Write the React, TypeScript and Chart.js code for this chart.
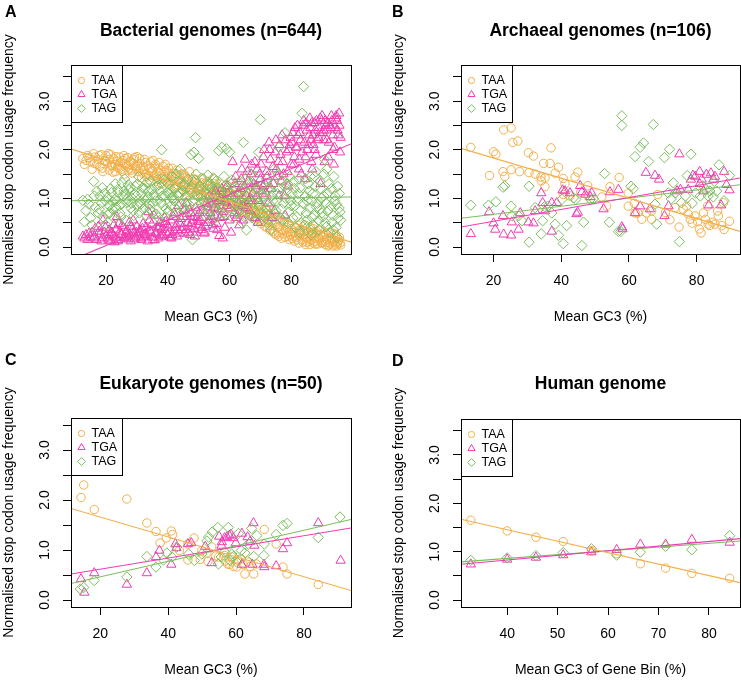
import React, { useEffect, useRef } from 'react';
import { Chart, registerables } from 'chart.js';

Chart.register(...registerables);

const FONT = "'Liberation Sans', Arial, Helvetica, sans-serif";
const ORANGE = '#F2AF4A';
const PINK = '#F03CB0';
const GREEN = '#7BBE5E';

type Pt = [number, number];

// ---- A: bacterial genomes (one entry per genome) ----
const bactGC3 = [
  12.5, 13.0, 13.5, 14.0, 15.0, 15.5, 16.0, 16.5, 17.0, 17.5,
  18.0, 18.5, 19.0, 19.5, 20.0, 20.5, 21.0, 21.2, 21.5, 22.0,
  22.5, 22.8, 23.0, 23.5, 24.0, 24.2, 24.5, 25.0, 25.5, 25.8,
  26.0, 26.5, 27.0, 27.2, 27.5, 28.0, 28.5, 28.8, 29.0, 29.5,
  29.8, 30.0, 30.5, 30.8, 31.0, 31.5, 32.0, 32.2, 32.5, 33.0,
  33.5, 33.8, 34.0, 34.5, 35.0, 35.2, 35.5, 36.0, 36.5, 36.8,
  37.0, 37.5, 38.0, 38.2, 38.5, 39.0, 39.2, 39.5, 40.0, 40.5,
  41.0, 41.2, 41.5, 42.0, 42.5, 43.0, 43.2, 43.5, 44.0, 44.5,
  45.0, 45.2, 45.5, 46.0, 46.5, 47.0, 47.2, 47.5, 48.0, 48.5,
  49.0, 49.2, 49.5, 50.0, 50.5, 51.0, 51.5, 51.8, 52.0, 52.5,
  53.0, 53.5, 53.8, 54.0, 54.5, 55.0, 55.5, 55.8, 56.0, 56.5,
  56.7, 57.0, 57.5, 57.8, 58.0, 58.5, 59.0, 59.5, 60.0, 60.5,
  61.0, 61.5, 62.0, 62.5, 63.0, 63.2, 63.5, 64.0, 64.5, 65.0,
  65.2, 65.5, 66.0, 66.5, 66.8, 67.0, 67.2, 67.5, 68.0, 68.5,
  69.0, 69.2, 69.5, 70.0, 70.5, 71.0, 71.5, 71.8, 72.0, 72.5,
  72.8, 73.0, 73.5, 73.8, 74.0, 74.5, 75.0, 75.5, 75.8, 76.0,
  76.5, 76.8, 77.0, 77.5, 77.8, 78.0, 78.5, 79.0, 79.5, 79.8,
  80.0, 80.5, 80.8, 81.0, 81.5, 82.0, 82.2, 82.5, 83.0, 83.2,
  83.5, 84.0, 84.5, 84.8, 85.0, 85.2, 85.5, 86.0, 86.2, 86.5,
  86.8, 87.0, 87.2, 87.5, 88.0, 88.2, 88.5, 89.0, 89.2, 89.5,
  90.0, 90.5, 90.8, 91.0, 91.5, 91.8, 92.0, 92.5, 92.8, 93.0,
  93.5, 93.8, 94.0, 94.5, 94.8, 95.0, 95.5, 95.8, 96.0,
  // second batch
  14.5, 16.2, 17.8, 18.8, 19.8, 20.8, 21.8, 22.2, 23.2, 23.8,
  24.8, 25.2, 26.2, 26.8, 27.8, 28.2, 29.2, 30.2, 31.2, 31.8,
  32.8, 33.2, 34.2, 34.8, 35.8, 36.2, 37.2, 37.8, 38.8, 39.8,
  40.2, 40.8, 41.8, 42.2, 42.8, 43.8, 44.2, 44.8, 45.8, 46.2,
  46.8, 47.8, 48.2, 48.8, 49.8, 50.2, 50.8, 51.2, 52.2, 52.8,
  53.2, 54.2, 54.8, 55.2, 56.2, 57.2, 58.2, 58.8, 59.2, 60.2,
  60.8, 61.8, 62.2, 62.8, 63.8, 64.2, 64.8, 65.8, 66.2, 67.8,
  68.2, 68.8, 69.8, 70.2, 70.8, 71.2, 72.2, 73.2, 74.2, 74.8,
  75.2, 76.2, 77.2, 78.2, 78.8, 79.2, 80.2, 81.2, 81.8, 82.8,
  83.8, 84.2, 85.8, 86.6, 87.8, 88.8, 89.8, 90.2, 91.2, 92.2,
  93.2, 94.2, 95.2, 84.6, 87.6, 90.6, 93.6, 95.6, 82.6, 86.4,
  89.4, 91.4, 94.6,
];
const bactTAA = [
  1.82, 1.70, 1.78, 1.88, 1.75, 1.60, 1.92, 1.85, 1.70, 1.80,
  1.66, 1.90, 1.55, 1.78, 1.88, 1.72, 1.58, 1.80, 1.90, 1.65,
  1.82, 1.70, 1.55, 1.76, 1.68, 1.62, 1.85, 1.60, 1.78, 1.88,
  1.50, 1.70, 1.84, 1.58, 1.62, 1.74, 1.52, 1.72, 1.80, 1.66,
  1.60, 1.86, 1.55, 1.82, 1.72, 1.42, 1.65, 1.60, 1.80, 1.50,
  1.68, 1.48, 1.38, 1.75, 1.58, 1.78, 1.46, 1.70, 1.35, 1.55,
  1.62, 1.52, 1.30, 1.42, 1.66, 1.45, 1.70, 1.58, 1.40, 1.52,
  1.30, 1.45, 1.62, 1.20, 1.45, 1.58, 1.28, 1.10, 1.38, 1.50,
  1.25, 1.50, 1.42, 1.05, 1.35, 1.55, 1.22, 1.18, 1.28, 1.40,
  1.08, 1.38, 1.30, 1.15, 1.20, 1.42, 0.95, 1.15, 1.30, 1.10,
  1.35, 0.90, 1.02, 1.25, 1.05, 1.40, 0.85, 1.22, 1.18, 1.00,
  1.10, 1.30, 0.88, 1.08, 1.12, 0.95, 1.28, 0.80, 1.05, 0.90,
  1.15, 1.25, 0.95, 0.85, 1.10, 0.95, 0.75, 1.00, 0.88, 0.70,
  1.15, 1.05, 0.80, 0.95, 0.68, 0.65, 0.75, 0.90, 0.72, 1.20,
  0.60, 0.92, 0.85, 0.55, 0.78, 0.60, 0.42, 0.80, 0.75, 0.50,
  0.65, 0.35, 0.68, 0.55, 0.45, 0.28, 0.62, 0.40, 0.30, 0.22,
  0.55, 0.18, 0.35, 0.48, 0.52, 0.20, 0.40, 0.30, 0.15, 0.25,
  0.38, 0.30, 0.22, 0.12, 0.40, 0.20, 0.45, 0.08, 0.35, 0.28,
  0.15, 0.25, 0.45, 0.20, 0.10, 0.18, 0.30, 0.05, 0.40, 0.22,
  0.30, 0.38, 0.08, 0.12, 0.28, 0.32, 0.06, 0.18, 0.14, 0.35,
  0.10, 0.25, 0.12, 0.05, 0.15, 0.02, 0.30, 0.08, 0.18, 0.20,
  0.02, 0.28, 0.12, 0.25, 0.10, 0.06, 0.15, 0.08, 0.04,
  // second batch
  1.84, 1.72, 1.88, 1.62, 1.76, 1.92, 1.68, 1.54, 1.86, 1.64,
  1.74, 1.56, 1.82, 1.66, 1.76, 1.58, 1.84, 1.68, 1.62, 1.52,
  1.74, 1.44, 1.62, 1.56, 1.66, 1.48, 1.74, 1.40, 1.56, 1.34,
  1.62, 1.36, 1.52, 1.40, 1.25, 1.48, 1.32, 1.18, 1.45, 1.28,
  1.12, 1.38, 1.20, 1.32, 1.05, 1.25, 1.10, 1.32, 1.02, 1.20,
  1.08, 0.95, 1.15, 1.30, 0.92, 1.05, 0.85, 1.18, 0.98, 0.88,
  1.02, 0.82, 1.08, 0.78, 0.92, 0.70, 0.95, 0.72, 0.88, 0.62,
  0.80, 0.58, 0.70, 0.48, 0.66, 0.52, 0.40, 0.58, 0.32, 0.50,
  0.25, 0.42, 0.28, 0.35, 0.22, 0.45, 0.18, 0.30, 0.15, 0.25,
  0.10, 0.32, 0.12, 0.28, 0.06, 0.20, 0.08, 0.22, 0.10, 0.04,
  0.15, 0.06, 0.12, 0.05, 0.18, 0.30, 0.10, 0.20, 0.35, 0.14,
  0.26, 0.16, 0.02,
];
const bactTGA = [
  0.22, 0.18, 0.25, 0.15, 0.20, 0.30, 0.18, 0.38, 0.15, 0.42,
  0.26, 0.12, 0.55, 0.30, 0.22, 0.18, 0.35, 0.25, 0.12, 0.28,
  0.45, 0.10, 0.20, 0.62, 0.15, 0.48, 0.32, 0.25, 0.40, 0.20,
  0.18, 0.30, 0.22, 0.16, 0.50, 0.12, 0.36, 0.55, 0.28, 0.20,
  0.30, 0.42, 0.22, 0.30, 0.35, 0.15, 0.48, 0.20, 0.25, 0.40,
  0.12, 0.72, 0.55, 0.30, 0.20, 0.15, 0.65, 0.28, 0.42, 0.38,
  0.18, 0.50, 0.35, 0.25, 0.22, 0.60, 0.52, 0.30, 0.45, 0.30,
  0.55, 0.18, 0.25, 0.70, 0.40, 0.22, 0.35, 0.85, 0.48, 0.35,
  0.62, 0.75, 0.28, 0.90, 0.50, 0.42, 0.25, 0.70, 0.55, 0.38,
  0.80, 0.30, 0.60, 0.45, 0.55, 0.40, 0.75, 0.28, 0.30, 0.90,
  0.50, 1.05, 0.70, 0.62, 0.45, 0.80, 1.15, 0.48, 0.35, 0.95,
  0.23, 0.60, 1.20, 0.18, 0.72, 0.40, 0.85, 1.10, 0.55, 0.30,
  1.75, 0.70, 1.45, 0.65, 0.90, 0.45, 1.20, 1.60, 0.55, 1.80,
  0.80, 1.05, 1.35, 0.75, 1.00, 1.50, 1.70, 1.10, 0.60, 1.25,
  1.60, 0.50, 0.95, 1.40, 1.15, 1.85, 1.30, 1.10, 1.55, 0.90,
  2.15, 2.00, 1.20, 0.60, 1.65, 0.75, 2.20, 1.45, 1.75, 1.05,
  1.90, 1.35, 2.30, 1.50, 1.05, 0.65, 1.95, 1.25, 2.10, 2.25,
  1.70, 2.35, 1.70, 1.85, 2.05, 2.50, 2.30, 1.60, 2.20, 1.50,
  1.95, 2.60, 1.40, 2.55, 2.40, 2.00, 2.10, 2.65, 2.45, 1.75,
  1.60, 2.30, 2.10, 2.55, 1.90, 2.60, 2.20, 2.45, 2.35, 1.30,
  2.70, 2.40, 1.75, 2.60, 2.20, 2.55, 1.85, 2.50, 2.45, 2.70,
  2.30, 1.70, 2.05, 2.65, 2.60, 2.40, 2.75, 1.95, 2.25,
  // second batch
  0.28, 0.22, 0.32, 0.18, 0.40, 0.14, 0.30, 0.22, 0.36, 0.12,
  0.26, 0.44, 0.20, 0.34, 0.24, 0.42, 0.16, 0.26, 0.18, 0.38,
  0.28, 0.22, 0.34, 0.46, 0.14, 0.30, 0.40, 0.22, 0.48, 0.26,
  0.40, 0.20, 0.62, 0.32, 0.45, 0.28, 0.58, 0.40, 0.35, 0.68,
  0.30, 0.48, 0.62, 0.22, 0.52, 0.70, 0.35, 0.60, 0.42, 0.82,
  0.55, 0.88, 0.38, 0.65, 0.78, 1.00, 0.62, 0.92, 1.25, 0.80,
  1.05, 1.30, 0.60, 1.10, 1.40, 0.85, 1.25, 1.55, 0.95, 1.30,
  1.75, 1.05, 1.50, 1.70, 1.25, 2.00, 1.45, 1.80, 1.30, 1.95,
  1.60, 2.10, 1.75, 2.20, 1.55, 2.00, 2.15, 2.45, 2.05, 2.35,
  2.50, 2.15, 2.30, 2.55, 2.40, 2.25, 2.60, 2.35, 2.50, 2.15,
  2.60, 2.45, 2.30, 1.85, 2.00, 2.20, 2.00, 2.50, 1.80, 2.20,
  2.65, 2.40, 2.70,
];
const bactTAG = [
  0.96, 0.52, 0.75, 0.98, 0.60, 0.45, 1.35, 0.82, 1.15, 0.70,
  1.05, 0.90, 0.62, 1.10, 0.45, 1.02, 0.85, 0.70, 1.20, 0.78,
  0.60, 0.98, 1.30, 0.95, 1.12, 0.85, 0.70, 0.88, 1.05, 1.15,
  1.40, 0.55, 0.92, 1.28, 1.18, 0.80, 1.00, 0.75, 0.65, 1.25,
  1.05, 0.85, 1.45, 0.70, 0.92, 1.10, 0.78, 1.00, 1.20, 0.65,
  1.02, 1.15, 0.88, 1.35, 0.72, 0.90, 1.08, 0.95, 1.25, 1.40,
  0.60, 1.15, 2.00, 1.05, 0.85, 1.05, 0.62, 0.78, 1.30, 1.10,
  0.85, 1.02, 1.45, 0.95, 1.22, 0.70, 1.35, 1.05, 1.60, 0.88,
  1.15, 0.80, 1.30, 0.92, 1.40, 0.75, 1.18, 1.90, 0.15, 1.95,
  2.25, 1.50, 1.05, 1.82, 1.25, 0.90, 1.40, 0.95, 0.65, 1.10,
  1.48, 0.80, 1.30, 1.20, 0.55, 1.00, 1.35, 0.62, 0.90, 1.98,
  1.15, 1.15, 2.05, 0.98, 0.70, 1.25, 2.02, 1.05, 1.95, 1.30,
  0.60, 1.05, 0.85, 1.20, 0.75, 0.95, 1.35, 0.50, 2.15, 0.90,
  1.40, 0.35, 1.10, 0.65, 1.50, 1.25, 0.60, 0.80, 1.45, 0.55,
  1.00, 1.20, 1.95, 2.62, 0.70, 1.05, 0.80, 0.70, 1.40, 0.55,
  0.45, 1.20, 0.35, 1.05, 0.95, 1.60, 0.75, 1.10, 1.50, 2.05,
  0.60, 0.78, 1.35, 0.90, 1.25, 2.35, 1.15, 0.50, 1.45, 0.95,
  0.85, 0.60, 1.35, 1.20, 0.40, 0.95, 1.10, 1.40, 0.75, 0.50,
  2.75, 3.30, 1.05, 0.70, 0.55, 0.95, 1.30, 0.80, 1.45, 0.25,
  0.60, 1.10, 0.45, 0.65, 1.55, 0.82, 0.90, 0.35, 1.35, 1.20,
  0.70, 1.05, 1.80, 0.50, 1.60, 1.10, 0.75, 0.30, 0.85, 1.20,
  0.65, 1.45, 0.95, 0.40, 0.20, 1.25, 0.80, 0.72, 0.55,
  // second batch
  0.88, 1.05, 0.78, 1.22, 0.95, 0.68, 1.12, 0.92, 0.82, 1.18,
  0.62, 1.32, 1.08, 0.98, 1.22, 0.90, 1.10, 1.30, 0.88, 1.22,
  0.95, 1.32, 0.78, 1.18, 1.02, 0.68, 1.28, 0.92, 1.38, 1.12,
  0.72, 1.20, 1.00, 0.82, 1.50, 1.12, 0.66, 1.28, 1.02, 1.22,
  0.88, 1.10, 0.95, 1.38, 1.18, 0.78, 1.05, 1.20, 0.88, 1.28,
  0.72, 1.10, 1.42, 0.80, 1.22, 0.85, 1.45, 0.68, 1.15, 0.90,
  1.38, 1.00, 0.72, 1.28, 0.85, 1.18, 0.62, 1.02, 1.30, 0.92,
  0.70, 1.20, 0.85, 1.25, 1.02, 0.62, 1.18, 0.82, 1.30, 0.68,
  0.95, 1.20, 0.55, 1.00, 1.30, 0.72, 1.10, 0.85, 0.62, 1.22,
  0.90, 0.45, 1.15, 0.95, 1.25, 0.55, 1.00, 0.62, 0.90, 1.30,
  0.50, 1.05, 0.60, 1.40, 1.45, 1.50, 0.35, 1.10, 0.30, 0.35,
  0.78, 0.42, 0.88,
];
// fitted lines: value at left and right edge of the plot
const bactFitTAA: Pt = [2.02, 0.10];
const bactFitTGA: Pt = [-0.27, 2.12];
const bactFitTAG: Pt = [0.95, 1.03];

// ---- B: archaeal genomes ----
const archTAA: Pt[] = [
  [13.3, 2.05], [18.8, 1.47], [20.0, 1.96], [20.7, 1.91], [22.8, 1.55], [23.3, 1.45], [23.0, 2.41], [25.2, 2.45], [25.7, 2.15], [27.2, 2.18],
  [25.2, 1.59], [27.7, 1.55], [30.3, 1.94], [31.8, 1.87], [30.5, 1.53], [32.3, 1.50], [34.0, 1.44], [34.1, 1.36], [35.2, 1.42], [35.2, 1.24],
  [34.8, 1.72], [36.7, 1.72], [37.0, 2.04], [38.2, 1.52], [39.2, 1.64], [40.6, 1.41], [41.1, 1.30], [44.1, 1.44], [44.9, 1.54], [40.6, 1.08],
  [42.6, 1.05], [45.8, 1.13], [47.8, 1.26], [48.0, 1.05], [52.0, 1.03], [54.4, 1.24], [57.1, 1.43], [53.4, 0.84], [59.8, 0.84], [61.6, 0.90],
  [62.6, 0.70], [63.8, 0.57], [65.2, 0.70], [66.7, 0.57], [68.5, 1.08], [70.8, 0.71], [72.1, 0.56], [73.6, 0.81], [74.8, 0.41], [76.0, 0.78],
  [77.5, 0.68], [78.1, 0.57], [78.7, 0.49], [79.5, 0.64], [80.3, 0.52], [80.8, 0.37], [81.3, 0.29], [82.0, 0.70], [82.6, 0.57], [83.4, 0.47],
  [83.9, 0.44], [84.6, 0.51], [85.4, 0.47], [86.4, 0.64], [86.2, 0.74], [87.4, 0.44], [88.1, 0.36], [89.7, 0.53], [87.9, 0.91], [83.2, 0.84],
  [77.0, 0.84], [61.8, 0.70], [59.8, 1.11], [66.7, 0.74],
];
const archTGA: Pt[] = [
  [13.3, 0.27], [18.7, 0.72], [20.0, 0.49], [20.5, 0.36], [22.8, 0.64], [23.0, 0.26], [25.2, 0.24], [25.4, 0.51], [27.4, 0.36], [27.9, 0.70],
  [30.3, 0.51], [31.8, 0.49], [32.3, 0.74], [34.1, 1.11], [34.5, 0.91], [37.2, 0.32], [35.2, 0.74], [37.2, 0.91], [38.7, 0.91], [40.4, 1.17],
  [41.1, 1.15], [42.6, 1.11], [44.5, 0.68], [44.9, 0.71], [45.6, 1.26], [46.1, 1.13], [47.1, 1.08], [48.6, 1.03], [49.0, 1.11], [52.5, 0.78],
  [54.4, 1.13], [56.9, 1.18], [57.9, 0.41], [58.1, 0.37], [61.8, 0.70], [63.3, 0.84], [65.0, 1.53], [66.2, 0.78], [67.7, 1.47], [68.9, 1.39],
  [70.5, 0.64], [71.7, 0.84], [74.2, 1.15], [74.9, 1.91], [75.2, 1.18], [77.5, 1.18], [78.3, 1.39], [78.9, 1.47], [79.6, 1.45], [80.9, 1.55],
  [81.5, 1.39], [82.0, 1.15], [82.9, 1.49], [84.2, 1.52], [84.9, 1.39], [85.4, 1.45], [87.2, 0.86], [88.1, 1.55], [88.8, 1.28], [89.7, 1.17],
  [83.6, 0.86], [80.9, 1.30],
];
const archTAG: Pt[] = [
  [13.3, 0.86], [18.5, 0.86], [20.7, 0.93], [22.8, 1.23], [23.3, 1.26], [25.2, 0.84], [25.4, 0.64], [27.4, 0.64], [28.4, 0.54], [30.5, 1.25],
  [30.5, 0.10], [32.3, 0.81], [34.1, 0.27], [34.5, 0.54], [35.1, 0.83], [36.0, 0.84], [37.2, 0.70], [38.2, 0.47], [39.2, 0.24], [40.2, 0.98],
  [40.6, 0.07], [41.6, 0.44], [43.6, 1.01], [44.3, 0.98], [46.1, 0.03], [46.6, 0.51], [48.6, 0.98], [49.5, 0.99], [52.8, 1.51], [54.2, 0.51],
  [56.9, 0.32], [57.6, 0.32], [57.9, 2.70], [57.9, 2.50], [60.6, 1.25], [61.3, 1.20], [61.8, 1.86], [63.3, 2.05], [64.3, 2.14], [65.8, 1.76],
  [67.2, 2.52], [67.7, 0.88], [68.2, 0.47], [70.5, 1.84], [72.0, 2.01], [72.5, 0.99], [73.7, 1.11], [74.9, 0.11], [75.5, 0.91], [76.7, 1.05],
  [77.2, 1.47], [78.3, 1.91], [78.7, 0.90], [79.7, 1.11], [81.1, 1.05], [81.8, 1.26], [82.8, 1.18], [83.4, 1.05], [83.9, 1.15], [84.9, 1.03],
  [85.2, 1.35], [85.9, 1.15], [86.6, 1.69], [88.1, 0.95], [89.7, 1.47], [71.6, 1.11], [73.1, 1.32],
];
const archFitTAA: Pt = [2.03, 0.32];
const archFitTGA: Pt = [0.41, 1.42];
const archFitTAG: Pt = [0.59, 1.28];

// ---- C: eukaryote genomes ----
const eukTAA: Pt[] = [
  [15.1, 2.30], [14.3, 2.05], [18.2, 1.81], [27.8, 2.02], [33.7, 1.54], [36.4, 1.37], [37.6, 1.14], [39.4, 1.24], [40.9, 1.38], [41.3, 1.31],
  [43.3, 0.99], [45.8, 0.80], [45.8, 1.12], [47.6, 1.24], [49.4, 0.81], [51.4, 0.94], [51.7, 0.77], [52.8, 1.06], [54.8, 0.86], [56.6, 0.89],
  [57.5, 0.72], [58.1, 0.71], [59.2, 0.67], [60.5, 0.80], [61.5, 0.82], [62.6, 0.52], [63.4, 0.76], [65.2, 0.52], [66.0, 0.72], [68.3, 1.41],
  [71.8, 1.12], [73.8, 0.66], [75.0, 0.52], [84.2, 0.31], [54.0, 0.88], [56.8, 0.78], [58.7, 0.86], [60.2, 0.66], [62.1, 0.71], [64.1, 0.67],
  [49.9, 0.99],
];
const eukTGA: Pt[] = [
  [14.3, 0.42], [15.3, 0.15], [18.2, 0.54], [27.8, 0.31], [33.7, 0.54], [36.4, 0.86], [37.4, 0.99], [40.9, 0.71], [42.1, 1.12], [42.4, 1.04],
  [45.8, 1.12], [46.8, 1.14], [50.9, 1.07], [52.8, 0.74], [55.0, 1.27], [55.8, 1.16], [56.6, 1.24], [57.3, 1.26], [58.0, 1.29], [58.5, 1.31],
  [59.2, 1.24], [59.9, 1.14], [61.7, 1.33], [63.4, 1.26], [65.1, 1.54], [65.4, 1.09], [61.7, 0.71], [64.8, 0.71], [68.2, 0.71], [68.3, 0.66],
  [71.8, 0.68], [73.8, 1.02], [75.0, 1.14], [84.2, 1.54], [90.8, 0.79], [55.7, 1.09], [64.1, 1.17],
];
const eukTAG: Pt[] = [
  [14.1, 0.22], [15.1, 0.25], [18.2, 0.39], [27.8, 0.46], [33.7, 0.87], [36.4, 0.66], [38.6, 0.80], [39.6, 0.94], [41.1, 0.86], [42.5, 1.06],
  [46.0, 0.92], [47.7, 0.79], [49.9, 0.92], [51.4, 1.18], [51.9, 1.26], [53.0, 1.36], [54.6, 1.45], [54.8, 0.72], [55.6, 0.86], [56.6, 0.96],
  [57.7, 1.45], [58.2, 0.79], [58.7, 0.92], [59.2, 0.87], [60.7, 1.33], [61.5, 0.99], [62.6, 0.94], [64.6, 1.43], [65.2, 0.87], [66.1, 1.29],
  [68.2, 0.89], [68.3, 1.12], [71.8, 1.31], [73.8, 1.49], [75.0, 1.53], [84.2, 1.25], [90.6, 1.66], [63.6, 1.12], [60.2, 0.76],
];
const eukFitTAA: Pt = [1.83, 0.19];
const eukFitTGA: Pt = [0.52, 1.44];
const eukFitTAG: Pt = [0.33, 1.61];

// ---- D: human genome, GC3 bins ----
const humanGC3 = [32.8, 40.0, 45.7, 51.1, 56.7, 61.7, 66.4, 71.4, 76.6, 84.1];
const humanTAA = [1.65, 1.43, 1.30, 1.21, 1.02, 0.96, 0.75, 0.66, 0.55, 0.45];
const humanTGA = [0.74, 0.84, 0.88, 0.93, 0.99, 1.04, 1.15, 1.15, 1.25, 1.19];
const humanTAG = [0.82, 0.87, 0.92, 0.98, 1.06, 0.93, 0.99, 1.11, 1.04, 1.33];
const humanFitTAA: Pt = [1.67, 0.36];
const humanFitTGA: Pt = [0.74, 1.27];
const humanFitTAG: Pt = [0.79, 1.22];

const stopLabels = ['TAA', 'TGA', 'TAG'];
const yTickValues = [0, 0.5, 1, 1.5, 2, 2.5, 3, 3.5];

const zip = (xs: number[], ys: number[]): Pt[] => xs.map((x, i) => [x, ys[i]]);

interface PanelSpec {
  letter: string;
  title: string;
  xTitle: string;
  pos: { x: number; y: number; w: number; h: number };
  area: { left: number; top: number; right: number; bottom: number; padLeft: number };
  letterPos: [number, number];
  titleY: number;
  xRange: [number, number];
  yRange: [number, number];
  xTicks: number[];
  series: [Pt[], Pt[], Pt[]];
  fits: [Pt, Pt, Pt];
}

const panels: PanelSpec[] = [
  {
    letter: 'A', title: 'Bacterial genomes (n=644)', xTitle: 'Mean GC3 (%)',
    pos: { x: 0, y: 0, w: 370, h: 340 },
    area: { left: 71, top: 65, right: 351, bottom: 254, padLeft: 0 },
    letterPos: [5, 17], titleY: 36,
    xRange: [8.65, 99.35], yRange: [-0.144, 3.744], xTicks: [20, 40, 60, 80],
    series: [zip(bactGC3, bactTAA), zip(bactGC3, bactTGA), zip(bactGC3, bactTAG)],
    fits: [bactFitTAA, bactFitTGA, bactFitTAG],
  },
  {
    letter: 'B', title: 'Archaeal genomes (n=106)', xTitle: 'Mean GC3 (%)',
    pos: { x: 370, y: 0, w: 371, h: 340 },
    area: { left: 91, top: 65, right: 370, bottom: 254, padLeft: 20 },
    letterPos: [22, 17], titleY: 36,
    xRange: [10.4, 92.8], yRange: [-0.144, 3.744], xTicks: [20, 40, 60, 80],
    series: [archTAA, archTGA, archTAG],
    fits: [archFitTAA, archFitTGA, archFitTAG],
  },
  {
    letter: 'C', title: 'Eukaryote genomes (n=50)', xTitle: 'Mean GC3 (%)',
    pos: { x: 0, y: 340, w: 370, h: 342 },
    area: { left: 71, top: 78, right: 351, bottom: 267, padLeft: 0 },
    letterPos: [5, 25], titleY: 48.5,
    xRange: [11.35, 93.85], yRange: [-0.14, 3.64], xTicks: [20, 40, 60, 80],
    series: [eukTAA, eukTGA, eukTAG],
    fits: [eukFitTAA, eukFitTGA, eukFitTAG],
  },
  {
    letter: 'D', title: 'Human genome', xTitle: 'Mean GC3 of Gene Bin (%)',
    pos: { x: 370, y: 340, w: 371, h: 342 },
    area: { left: 91, top: 79, right: 370, bottom: 267, padLeft: 20 },
    letterPos: [22, 26], titleY: 48.5,
    xRange: [30.85, 86.15], yRange: [-0.144, 3.744], xTicks: [40, 50, 60, 70, 80],
    series: [zip(humanGC3, humanTAA), zip(humanGC3, humanTGA), zip(humanGC3, humanTAG)],
    fits: [humanFitTAA, humanFitTGA, humanFitTAG],
  },
];

const colours = [ORANGE, PINK, GREEN];
const styles = ['circle', 'triangle', 'rectRot'] as const;
const radii = [4.2, 5.4, 5.2];
const legendRadii = [3.1, 4.1, 3.9];

function drawSymbol(ctx: CanvasRenderingContext2D, style: string, x: number, y: number, r: number, colour: string) {
  ctx.beginPath();
  if (style === 'circle') {
    ctx.arc(x, y, r, 0, Math.PI * 2);
  } else if (style === 'triangle') {
    const s = Math.sin(Math.PI / 3) * r;
    ctx.moveTo(x, y - r);
    ctx.lineTo(x + s, y + r / 2);
    ctx.lineTo(x - s, y + r / 2);
    ctx.closePath();
  } else {
    ctx.moveTo(x, y - r);
    ctx.lineTo(x + r, y);
    ctx.lineTo(x, y + r);
    ctx.lineTo(x - r, y);
    ctx.closePath();
  }
  ctx.strokeStyle = colour;
  ctx.lineWidth = 1;
  ctx.stroke();
}

const Panel: React.FC<{ spec: PanelSpec }> = ({ spec }) => {
  const canvasRef = useRef<HTMLCanvasElement>(null);

  useEffect(() => {
    if (!canvasRef.current) return;
    const { area, pos } = spec;
    const axisFont = { family: FONT, size: 14 };
    const xAxisHeight = pos.h - area.bottom;

    // panel letter, title, legend box and frame, drawn R-style
    const decorations = {
      id: 'rDecorations',
      afterDraw(chart: Chart) {
        const { ctx, chartArea: a } = chart;
        ctx.save();
        // legend
        const lx = Math.round(a.left) + 0.5;
        const ly = Math.round(a.top) + 0.5;
        ctx.fillStyle = '#fff';
        ctx.fillRect(lx, ly, 51, 57);
        ctx.strokeStyle = '#000';
        ctx.lineWidth = 1;
        ctx.strokeRect(lx, ly, 51, 57);
        ctx.font = `12.5px ${FONT}`;
        ctx.textAlign = 'left';
        ctx.textBaseline = 'middle';
        stopLabels.forEach((label, i) => {
          const cy = ly + 15 + i * 14;
          drawSymbol(ctx, styles[i], lx + 10, cy, legendRadii[i], colours[i]);
          ctx.fillStyle = '#000';
          ctx.fillText(label, lx + 20, cy + 0.5);
        });
        // frame
        ctx.strokeStyle = '#000';
        ctx.strokeRect(Math.round(a.left) + 0.5, Math.round(a.top) + 0.5, Math.round(a.right - a.left), Math.round(a.bottom - a.top));
        // title and letter
        ctx.fillStyle = '#000';
        ctx.textBaseline = 'alphabetic';
        ctx.textAlign = 'center';
        ctx.font = `bold 17.5px ${FONT}`;
        ctx.fillText(spec.title, (a.left + a.right) / 2, spec.titleY);
        ctx.textAlign = 'left';
        ctx.font = `bold 16px ${FONT}`;
        ctx.fillText(spec.letter, spec.letterPos[0], spec.letterPos[1]);
        ctx.restore();
      },
    };

    const pointSets = spec.series.map((pts, i) => ({
      label: stopLabels[i],
      data: pts.map(([x, y]) => ({ x, y })),
      showLine: false,
      pointStyle: styles[i],
      pointRadius: radii[i],
      pointBorderWidth: 1,
      borderColor: colours[i],
      pointBorderColor: colours[i],
      backgroundColor: 'rgba(0,0,0,0)',
      pointBackgroundColor: 'rgba(0,0,0,0)',
      clip: 0,
      order: 3 - i,
    }));
    const fitSets = spec.fits.map((fit, i) => ({
      label: `${stopLabels[i]} fit`,
      data: [
        { x: spec.xRange[0], y: fit[0] },
        { x: spec.xRange[1], y: fit[1] },
      ],
      showLine: true,
      pointRadius: 0,
      borderColor: colours[i],
      borderWidth: 1.1,
      fill: false,
      clip: 0,
      order: 0,
    }));

    const chart = new Chart(canvasRef.current, {
      type: 'scatter',
      data: { datasets: [...pointSets, ...fitSets] as any },
      options: {
        responsive: false,
        animation: false,
        events: [],
        layout: {
          autoPadding: false,
          padding: { left: area.padLeft, top: area.top, right: pos.w - area.right, bottom: 0 },
        },
        plugins: {
          legend: { display: false },
          tooltip: { enabled: false },
        },
        scales: {
          x: {
            type: 'linear',
            min: spec.xRange[0],
            max: spec.xRange[1],
            grid: { drawOnChartArea: false, drawTicks: true, tickLength: 8, color: '#000', lineWidth: 1 },
            border: { display: false },
            ticks: {
              autoSkip: false,
              color: '#000',
              font: axisFont,
              padding: 11,
              maxRotation: 0,
              minRotation: 0,
              callback: (v) => String(v),
            },
            afterBuildTicks: (s) => {
              s.ticks = spec.xTicks.map((value) => ({ value }));
            },
            afterFit: (s) => {
              s.height = xAxisHeight;
            },
            title: {
              display: true,
              text: spec.xTitle,
              color: '#000',
              font: axisFont,
              padding: { top: 0, bottom: xAxisHeight - 63 - 8.4 },
            },
          },
          y: {
            type: 'linear',
            min: spec.yRange[0],
            max: spec.yRange[1],
            grid: { drawOnChartArea: false, drawTicks: true, tickLength: 8, color: '#000', lineWidth: 1 },
            border: { display: false },
            ticks: {
              autoSkip: false,
              color: '#000',
              font: axisFont,
              padding: 8,
              minRotation: 90,
              maxRotation: 90,
              crossAlign: 'center',
              callback: (v) => (Number.isInteger(Number(v)) ? Number(v).toFixed(1) : ''),
            },
            afterBuildTicks: (s) => {
              s.ticks = yTickValues.map((value) => ({ value }));
            },
            afterFit: (s) => {
              s.width = area.left - area.padLeft;
            },
            title: {
              display: true,
              text: 'Normalised stop codon usage frequency',
              color: '#000',
              font: axisFont,
              padding: { top: 1, bottom: 0 },
            },
          },
        },
      },
      plugins: [decorations],
    });

    return () => {
      chart.destroy();
    };
  }, [spec]);

  return (
    <canvas
      ref={canvasRef}
      width={spec.pos.w}
      height={spec.pos.h}
      style={{ position: 'absolute', left: spec.pos.x, top: spec.pos.y, width: spec.pos.w, height: spec.pos.h }}
    />
  );
};

export default function App() {
  return (
    <div style={{ position: 'absolute', left: 0, top: 0, width: 741, height: 682, background: '#fff' }}>
      {panels.map((p) => (
        <Panel key={p.letter} spec={p} />
      ))}
    </div>
  );
}
